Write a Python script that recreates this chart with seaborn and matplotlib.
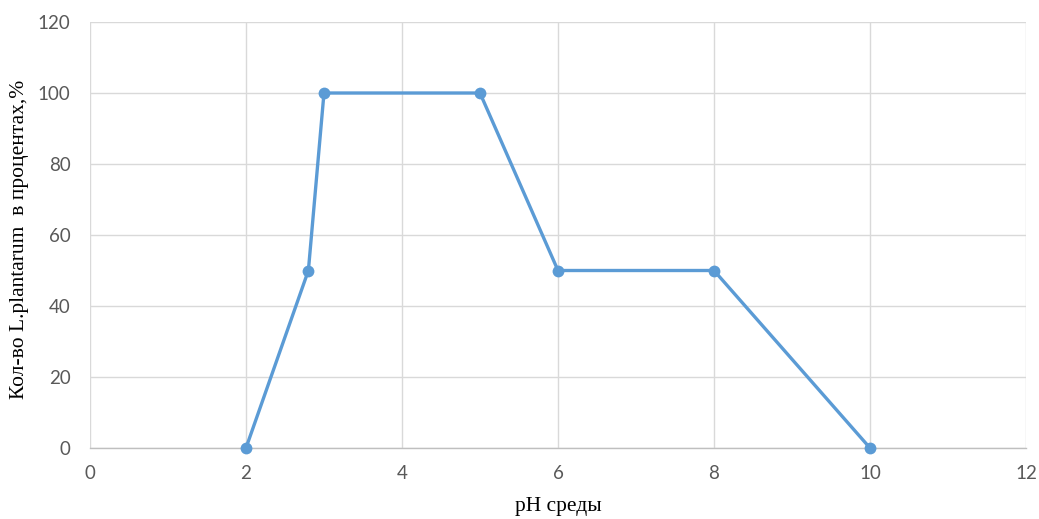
import matplotlib
matplotlib.use("Agg")
import matplotlib.pyplot as plt
import seaborn as sns
import pandas as pd

# pH of the medium and share of surviving L. plantarum, %
ph_values = [2, 2.8, 3, 5, 6, 8, 10]
survival_pct = [0, 50, 100, 100, 50, 50, 0]

x_ticks = [0, 2, 4, 6, 8, 10, 12]
y_ticks = [0, 20, 40, 60, 80, 100, 120]

sns.set_theme(style="whitegrid")
plt.rcParams["font.family"] = ["Lato", "DejaVu Sans"]

df = pd.DataFrame({"pH": ph_values, "pct": survival_pct})

fig = plt.figure(figsize=(10.39, 5.19), dpi=100)
ax = fig.add_axes([0.0866, 0.1368, 0.9009, 0.8208])

line_color = "#5b9bd5"
sns.lineplot(data=df, x="pH", y="pct", ax=ax, color=line_color, linewidth=2.4,
             marker="o", markersize=8.5, markeredgewidth=0, sort=False)
for ln in ax.lines:
    ln.set_clip_on(False)
    ln.set_zorder(5)

ax.set_xlim(0, 12)
ax.set_ylim(0, 120)
ax.set_xticks(x_ticks)
ax.set_yticks(y_ticks)
ax.set_xticklabels([str(v) for v in x_ticks])
ax.set_yticklabels([str(v) for v in y_ticks])

ax.grid(True, color="#d9d9d9", linewidth=1.0)
for side in ["top", "right", "left"]:
    ax.spines[side].set_visible(False)
ax.spines["bottom"].set_visible(True)
ax.spines["bottom"].set_color("#bfbfbf")
ax.spines["bottom"].set_linewidth(1.0)
ax.spines["bottom"].set_zorder(1)
ax.set_axisbelow(True)

ax.tick_params(axis="both", length=0, labelsize=13.5, colors="#595959")
ax.tick_params(axis="y", pad=14)
ax.tick_params(axis="x", pad=12)

ax.set_xlabel("pH среды", fontsize=15.5, family="Liberation Serif", color="#000000", labelpad=11)
ax.set_ylabel("Кол-во L.plantarum  в процентах,%", fontsize=15.5, family="Liberation Serif",
              color="#000000")
ax.yaxis.set_label_coords(-0.065, 0.49)

fig.savefig("out.png", dpi=100, facecolor="white")
